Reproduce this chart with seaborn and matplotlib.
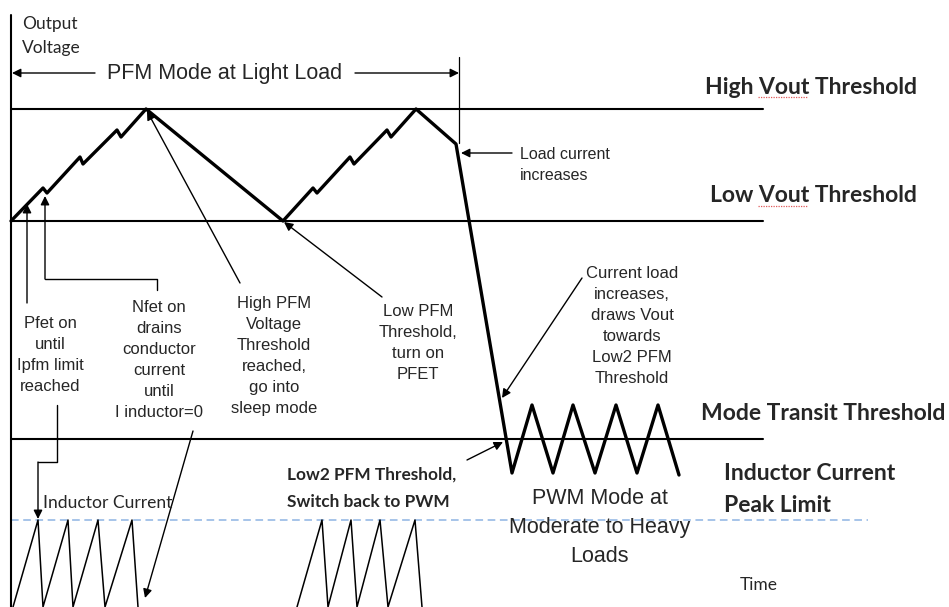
import matplotlib
matplotlib.use("Agg")
import matplotlib.pyplot as plt
import seaborn as sns
import pandas as pd

# thresholds (pixel rows of the original figure, y grows downward)
high_vout = 109
low_vout = 221
mode_transit = 439
peak_limit = 520

# output voltage waveform vertices (time, level)
vout_t = [11, 43, 47, 80, 83, 117, 121, 146, 283, 313, 317, 350, 354, 387, 391, 416,
          456, 512, 532, 553, 573, 595, 616, 637, 658, 679]
vout_y = [221, 188, 193, 157, 164, 130, 137, 109, 221, 188, 193, 157, 164, 130, 137, 109,
          144, 473, 405, 473, 405, 473, 405, 473, 405, 475]

# inductor current sawtooth, two bursts
il1_t = [13, 38, 43, 68, 73, 98, 105, 132, 138]
il1_y = [607, 520, 607, 520, 607, 520, 607, 520, 607]
il2_t = [297, 322, 328, 351, 357, 380, 388, 415, 422]
il2_y = [607, 520, 607, 520, 607, 520, 607, 520, 607]

right_labels = ["High Vout Threshold", "Low Vout Threshold", "Mode Transit Threshold"]

sns.set_theme(style="white")
plt.rcParams["font.family"] = ["Liberation Sans", "DejaVu Sans"]

fig = plt.figure(figsize=(9.49, 6.07), dpi=100)
ax = fig.add_axes([0, 0, 1, 1])

# threshold lines
for lvl in [high_vout, low_vout, mode_transit]:
    ax.plot([11, 763], [lvl, lvl], color="black", lw=1.5)
ax.plot([11, 868], [peak_limit, peak_limit], color="#8eb4e3", lw=1.1, dashes=(5, 3))

# vertical axis
ax.plot([11, 11], [15, 607], color="black", lw=1.5)

# waveforms
vout = pd.DataFrame({"t": vout_t, "v": vout_y})
sns.lineplot(data=vout, x="t", y="v", sort=False, estimator=None, color="black", lw=2.4, ax=ax)
for tt, yy in [(il1_t, il1_y), (il2_t, il2_y)]:
    sns.lineplot(x=tt, y=yy, sort=False, estimator=None, color="black", lw=1.1, ax=ax)
ax.set_xlim(0, 949)
ax.set_ylim(607, 0)
ax.axis("off")

arrow = dict(arrowstyle="-|>", color="black", lw=1.0, mutation_scale=13, shrinkA=0, shrinkB=0)

# PFM span marker
ax.annotate("", xy=(12, 73), xytext=(95, 73), arrowprops=arrow)
ax.annotate("", xy=(459, 73), xytext=(355, 73), arrowprops=arrow)
ax.plot([459, 459], [57, 143], color="black", lw=0.9)
ax.text(225, 73, "PFM Mode at Light Load", ha="center", va="center", fontsize=15.5)

# axis titles
small = dict(ha="left", va="center", fontsize=12.5, family=["Lato", "DejaVu Sans"])
ax.text(22, 24, "Output", **small)
ax.text(22, 48, "Voltage", **small)
ax.text(740, 585, "Time", **small)

# callout arrows
ax.annotate("", xy=(27, 204), xytext=(27, 303), arrowprops=arrow)
ax.plot([157, 157, 45], [290, 279, 279], color="black", lw=1.0)
ax.annotate("", xy=(45, 196), xytext=(45, 279), arrowprops=arrow)
ax.annotate("", xy=(147, 111), xytext=(240, 283), arrowprops=arrow)
ax.annotate("", xy=(284, 222), xytext=(382, 297), arrowprops=arrow)
ax.plot([57, 57, 38], [405, 462, 462], color="black", lw=1.0)
ax.annotate("", xy=(38, 519), xytext=(38, 462), arrowprops=arrow)
ax.annotate("", xy=(145, 598), xytext=(193, 431), arrowprops=arrow)
ax.annotate("", xy=(502, 398), xytext=(582, 278), arrowprops=arrow)
ax.annotate("", xy=(503, 442), xytext=(467, 460), arrowprops=arrow)
ax.annotate("", xy=(461, 153), xytext=(512, 153), arrowprops=arrow)

# callout texts
note = dict(ha="center", va="center", fontsize=12, linespacing=1.5)
ax.text(50, 355, "Pfet on\nuntil\nIpfm limit\nreached", **note)
ax.text(159, 360, "Nfet on\ndrains\nconductor\ncurrent\nuntil\nI inductor=0", **note)
ax.text(274, 356, "High PFM\nVoltage\nThreshold\nreached,\ngo into\nsleep mode", **note)
ax.text(418, 343, "Low PFM\nThreshold,\nturn on\nPFET", **note)
ax.text(632, 326, "Current load\nincreases,\ndraws Vout\ntowards\nLow2 PFM\nThreshold", **note)
ax.text(520, 165, "Load current\nincreases", ha="left", va="center", fontsize=11.5, linespacing=1.45)
ax.text(600, 527, "PWM Mode at\nModerate to Heavy\nLoads", ha="center", va="center",
        fontsize=15.5, linespacing=1.5)

# bold threshold labels
bold = dict(ha="left", va="center", fontsize=16.5, fontweight="bold", family=["Lato", "DejaVu Sans"])
ax.text(705, 87, right_labels[0], **bold)
ax.text(710, 196, right_labels[1], **bold)
ax.text(701, 413, right_labels[2], **bold)
ax.text(724, 473, "Inductor Current", **bold)
ax.text(724, 505, "Peak Limit", **bold)
# spell-check squiggles under "Vout"
for yy in [97, 206]:
    ax.plot([758, 808], [yy, yy], color="#e05a5a", lw=0.9, ls=(0, (1, 1)))
ax.text(287, 475, "Low2 PFM Threshold,", ha="left", va="center", fontsize=12.4,
        fontweight="bold", family=["Lato", "DejaVu Sans"])
ax.text(287, 502, "Switch back to PWM", ha="left", va="center", fontsize=12.4,
        fontweight="bold", family=["Lato", "DejaVu Sans"])
ax.text(43, 503, "Inductor Current", ha="left", va="center", fontsize=12.6,
        family=["Lato", "DejaVu Sans"])

fig.savefig("out.png", dpi=100)
